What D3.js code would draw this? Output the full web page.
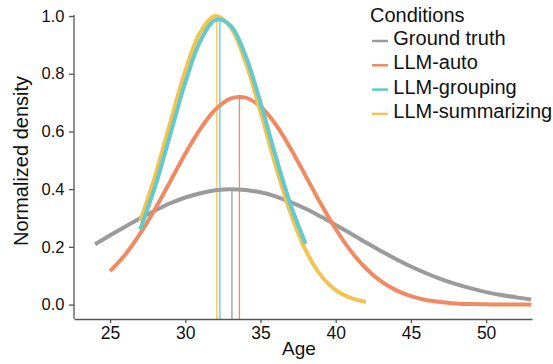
<!DOCTYPE html>
<html>
<head>
<meta charset="utf-8">
<script src="https://cdn.jsdelivr.net/npm/d3@7"></script>
<style>
  body { margin: 0; background: #fff; }
  text { font-family: "Liberation Sans", Arial, sans-serif; fill: #111; }
</style>
</head>
<body>
<script>
// Age density curves, normalized, with a mean line for each condition

const w = 553;
const h = 364;

const conditions = ["Ground truth", "LLM-auto", "LLM-grouping", "LLM-summarizing"];
const colors = ["#9b9b9b", "#ef8a62", "#62c9cc", "#f1c350"];

// values, one per year of age
const groundAges = d3.range(24, 54);
const groundDensity = [0.209, 0.240, 0.270, 0.299, 0.326, 0.351, 0.371, 0.386, 0.396, 0.400,
  0.397, 0.389, 0.375, 0.355, 0.332, 0.305, 0.276, 0.246, 0.215, 0.186,
  0.158, 0.132, 0.109, 0.088, 0.071, 0.056, 0.043, 0.033, 0.025, 0.018];

const autoAges = d3.range(25, 54);
const autoDensity = [0.116, 0.173, 0.246, 0.332, 0.427, 0.523, 0.609, 0.676, 0.714, 0.717,
  0.686, 0.625, 0.541, 0.446, 0.350, 0.262, 0.186, 0.126, 0.081, 0.050,
  0.029, 0.016, 0.009, 0.004, 0.002, 0.001, 0.000, 0.000, 0.000];

const groupingAges = d3.range(27, 39);
const groupingDensity = [0.260, 0.410, 0.589, 0.770, 0.913, 0.986, 0.967, 0.863, 0.700, 0.516,
  0.346, 0.211];

const summarizingAges = d3.range(27, 43);
const summarizingDensity = [0.288, 0.447, 0.631, 0.810, 0.944, 1.000, 0.962, 0.841, 0.668, 0.483,
  0.317, 0.189, 0.102, 0.050, 0.023, 0.009];

// mean age of each condition and the curve height there
const meanAge = [33.1, 33.6, 32.3, 32.1];
const meanDensity = [0.400, 0.718, 0.988, 1.000];

const xTicks = [25, 30, 35, 40, 45, 50];
const yTicks = [0.0, 0.2, 0.4, 0.6, 0.8, 1.0];

const series = [
  { name: conditions[0], ages: groundAges, values: groundDensity },
  { name: conditions[1], ages: autoAges, values: autoDensity },
  { name: conditions[2], ages: groupingAges, values: groupingDensity },
  { name: conditions[3], ages: summarizingAges, values: summarizingDensity }
].map((s, i) => ({
  ...s,
  color: colors[i],
  points: s.ages.map((a, j) => ({ age: a, density: s.values[j] }))
}));

const svg = d3.select("body")
  .append("svg")
  .attr("width", w)
  .attr("height", h);

const x_scale = d3.scaleLinear()
  .domain([22.6, 53.05])
  .range([74, 532]);

const y_scale = d3.scaleLinear()
  .domain([-0.05, 1.0])
  .range([319, 16]);

const color = d3.scaleOrdinal()
  .domain(conditions)
  .range(colors);

// mean lines first, curves on top
svg.append("g")
  .selectAll("line")
  .data(conditions)
  .enter()
  .append("line")
  .attr("x1", (d, i) => x_scale(meanAge[i]))
  .attr("x2", (d, i) => x_scale(meanAge[i]))
  .attr("y1", y_scale(-0.05))
  .attr("y2", (d, i) => y_scale(meanDensity[i]))
  .attr("stroke", d => color(d))
  .attr("stroke-width", 1.3);

const line = d3.line()
  .x(d => x_scale(d.age))
  .y(d => y_scale(d.density))
  .curve(d3.curveCatmullRom);

// draw order: gray, orange, yellow, cyan (cyan sits above yellow)
const drawOrder = [0, 1, 3, 2];

svg.append("g")
  .selectAll("path")
  .data(drawOrder.map(i => series[i]))
  .enter()
  .append("path")
  .attr("d", d => line(d.points))
  .attr("fill", "none")
  .attr("stroke", d => d.color)
  .attr("stroke-width", 4);

const x_axis = d3.axisBottom(x_scale)
  .tickValues(xTicks)
  .tickFormat(d3.format("d"))
  .tickSizeInner(4)
  .tickSizeOuter(0);

const y_axis = d3.axisLeft(y_scale)
  .tickValues(yTicks)
  .tickFormat(d3.format(".1f"))
  .tickSizeInner(5)
  .tickSizeOuter(0);

const gx = svg.append("g")
  .attr("class", "x axis")
  .attr("transform", "translate(0,319)")
  .call(x_axis);

const gy = svg.append("g")
  .attr("class", "y axis")
  .attr("transform", "translate(74,0)")
  .call(y_axis);

gy.select(".domain").attr("d", `M0,${y_scale(-0.05)}V15`);

[gx, gy].forEach(g => {
  g.select(".domain").attr("stroke", "#555").attr("stroke-width", 1.3);
  g.selectAll(".tick line").attr("stroke", "#555").attr("stroke-width", 1.3);
  g.selectAll(".tick text")
    .attr("font-family", "'Liberation Sans', Arial, sans-serif")
    .attr("fill", "#111");
});
gx.selectAll(".tick text")
  .attr("font-size", "17.5px")
  .attr("y", 20)
  .attr("dy", 0);
gy.selectAll(".tick text")
  .attr("font-size", "16.5px")
  .attr("x", -9.5);

svg.append("text")
  .attr("x", 299)
  .attr("y", 355)
  .attr("text-anchor", "middle")
  .attr("font-size", "19px")
  .text("Age");

svg.append("text")
  .attr("transform", "rotate(-90)")
  .attr("x", -161)
  .attr("y", 28)
  .attr("text-anchor", "middle")
  .attr("font-size", "20px")
  .text("Normalized density");

// legend
const legend = svg.append("g")
  .attr("class", "legend")
  .attr("transform", "translate(370, 0)");

legend.append("text")
  .attr("x", 0)
  .attr("y", 21.7)
  .attr("font-size", "20px")
  .text("Conditions");

const legendItem = legend.selectAll(".legend-item")
  .data(conditions)
  .enter()
  .append("g")
  .attr("class", "legend-item")
  .attr("transform", (d, i) => `translate(0, ${45 + i * 24.3})`);

legendItem.append("line")
  .attr("x1", 2)
  .attr("x2", 18)
  .attr("y1", -4)
  .attr("y2", -4)
  .attr("stroke", d => color(d))
  .attr("stroke-width", 2.5);

legendItem.append("text")
  .attr("x", 23.3)
  .attr("y", 0)
  .attr("font-size", "20px")
  .text(d => d);
</script>
</body>
</html>
